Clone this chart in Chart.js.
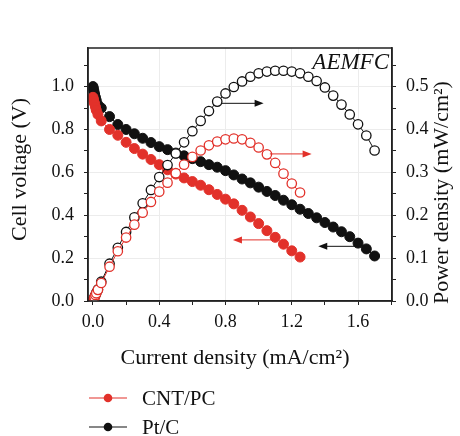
<!DOCTYPE html>
<html>
<head>
<meta charset="utf-8">
<script src="https://cdn.jsdelivr.net/npm/chart.js@4.4.1/dist/chart.umd.min.js"></script>
<style>
    html, body { margin: 0; padding: 0; background: #fff; }
    #wrap { width: 460px; height: 436px; position: relative; }
</style>
</head>
<body>
<div id="wrap"><canvas id="fuelCellChart"></canvas></div>
<script>
// Polarization data (current in mA/cm2)
const ptCurrent = [0, 0.003, 0.006, 0.01, 0.015, 0.02, 0.03, 0.05, 0.1, 0.15, 0.2, 0.25, 0.3, 0.35, 0.4, 0.45, 0.5, 0.55, 0.6, 0.65, 0.7, 0.75, 0.8, 0.85, 0.9, 0.95, 1.0, 1.05, 1.1, 1.15, 1.2, 1.25, 1.3, 1.35, 1.4, 1.45, 1.5, 1.55, 1.6, 1.65, 1.7];
const ptVoltage = [1.0, 0.99, 0.978, 0.965, 0.95, 0.935, 0.915, 0.9, 0.86, 0.823, 0.80, 0.78, 0.759, 0.739, 0.72, 0.706, 0.69, 0.677, 0.664, 0.65, 0.636, 0.624, 0.608, 0.588, 0.569, 0.551, 0.531, 0.511, 0.492, 0.47, 0.449, 0.428, 0.408, 0.388, 0.366, 0.345, 0.323, 0.30, 0.27, 0.243, 0.21];
const ptPower = [0, 0.003, 0.006, 0.01, 0.014, 0.019, 0.027, 0.045, 0.087, 0.124, 0.161, 0.195, 0.228, 0.259, 0.289, 0.317, 0.344, 0.37, 0.396, 0.42, 0.443, 0.465, 0.484, 0.499, 0.512, 0.523, 0.531, 0.535, 0.537, 0.537, 0.535, 0.531, 0.523, 0.513, 0.498, 0.479, 0.458, 0.435, 0.412, 0.386, 0.351];

const cntCurrent = [0, 0.003, 0.006, 0.01, 0.015, 0.02, 0.03, 0.05, 0.1, 0.15, 0.2, 0.25, 0.3, 0.35, 0.4, 0.45, 0.5, 0.55, 0.6, 0.65, 0.7, 0.75, 0.8, 0.85, 0.9, 0.95, 1.0, 1.05, 1.1, 1.15, 1.2, 1.25];
const cntVoltage = [0.95, 0.94, 0.93, 0.92, 0.905, 0.89, 0.87, 0.84, 0.80, 0.773, 0.74, 0.711, 0.685, 0.66, 0.636, 0.612, 0.592, 0.574, 0.557, 0.54, 0.519, 0.497, 0.475, 0.453, 0.423, 0.392, 0.361, 0.328, 0.297, 0.265, 0.234, 0.205];
const cntPower = [0, 0.003, 0.006, 0.009, 0.014, 0.018, 0.026, 0.042, 0.08, 0.116, 0.148, 0.178, 0.206, 0.231, 0.255, 0.276, 0.298, 0.318, 0.336, 0.351, 0.363, 0.372, 0.377, 0.379, 0.377, 0.369, 0.358, 0.342, 0.322, 0.297, 0.274, 0.253];

const legendLabels = ['CNT/PC', 'Pt/C'];
const xTitle = 'Current density (mA/cm\u00B2)';
const yTitle = 'Cell voltage (V)';
const y2Title = 'Power density (mW/cm\u00B2)';
const cellLabel = 'AEMFC';

const RED = '#e2312a';
const BLACK = '#111';
const SERIF = "'Liberation Serif', 'Times New Roman', serif";

function toPoints(xs, ys) {
    return xs.map((x, i) => ({ x: x, y: ys[i] }));
}

// true when v is a multiple of step (float safe)
function isMultiple(v, step) {
    const r = v / step;
    return Math.abs(r - Math.round(r)) < 1e-6;
}

function filledSet(label, xs, ys, color) {
    return {
        label: label,
        data: toPoints(xs, ys),
        yAxisID: 'y',
        borderColor: color,
        backgroundColor: color,
        borderWidth: 1,
        pointRadius: 5,
        pointBorderWidth: 1,
        pointBorderColor: color,
        pointBackgroundColor: color,
        order: 2
    };
}

function openSet(label, xs, ys, color) {
    return {
        label: label,
        data: toPoints(xs, ys),
        yAxisID: 'y2',
        borderColor: color,
        backgroundColor: '#fff',
        borderWidth: 1,
        pointRadius: 4.7,
        pointBorderWidth: 1.3,
        pointBorderColor: color,
        pointBackgroundColor: '#fff',
        order: 1
    };
}

// arrows in data units of the left axis: x from, x to, y
const arrows = [
    { from: 0.777, to: 1.03, y: 0.922, color: BLACK },
    { from: 1.068, to: 1.32, y: 0.686, color: RED },
    { from: 1.09, to: 0.845, y: 0.285, color: RED },
    { from: 1.58, to: 1.36, y: 0.255, color: BLACK }
];

const decorPlugin = {
    id: 'decor',
    afterDatasetsDraw(chart) {
        const ctx = chart.ctx;
        const area = chart.chartArea;
        const xs = chart.scales.x;
        const ys = chart.scales.y;

        ctx.save();

        // frame
        ctx.strokeStyle = '#222';
        ctx.lineWidth = 1.5;
        ctx.strokeRect(area.left, area.top, area.right - area.left, area.bottom - area.top);

        // arrows
        arrows.forEach(a => {
            const x1 = xs.getPixelForValue(a.from);
            const x2 = xs.getPixelForValue(a.to);
            const y = ys.getPixelForValue(a.y);
            const dir = x2 > x1 ? 1 : -1;
            ctx.strokeStyle = a.color;
            ctx.fillStyle = a.color;
            ctx.lineWidth = 1;
            ctx.beginPath();
            ctx.moveTo(x1, y);
            ctx.lineTo(x2 - dir * 6, y);
            ctx.stroke();
            ctx.beginPath();
            ctx.moveTo(x2, y);
            ctx.lineTo(x2 - dir * 9, y - 3.5);
            ctx.lineTo(x2 - dir * 9, y + 3.5);
            ctx.closePath();
            ctx.fill();
        });

        // label in the corner
        ctx.fillStyle = BLACK;
        ctx.font = 'italic 23px ' + SERIF;
        ctx.textAlign = 'right';
        ctx.textBaseline = 'middle';
        ctx.fillText(cellLabel, area.right - 3, area.top + 15);

        ctx.restore();
    },
    afterDraw(chart) {
        const ctx = chart.ctx;
        const area = chart.chartArea;
        ctx.save();
        ctx.fillStyle = BLACK;
        ctx.font = '22px ' + SERIF;
        ctx.textAlign = 'center';
        ctx.textBaseline = 'middle';

        // axis titles
        ctx.fillText(xTitle, (area.left + area.right) / 2 - 5, area.bottom + 57);

        ctx.save();
        ctx.translate(20, (area.top + area.bottom) / 2 - 5);
        ctx.rotate(-Math.PI / 2);
        ctx.fillText(yTitle, 0, 0);
        ctx.restore();

        ctx.save();
        ctx.translate(442, (area.top + area.bottom) / 2 + 18);
        ctx.rotate(-Math.PI / 2);
        ctx.fillText(y2Title, 0, 0);
        ctx.restore();

        // legend (line with filled dot)
        const colors = [RED, BLACK];
        ctx.font = '21px ' + SERIF;
        legendLabels.forEach((label, i) => {
            const y = area.bottom + 97 + i * 29;
            const x0 = area.left + 1;
            ctx.strokeStyle = colors[i];
            ctx.fillStyle = colors[i];
            ctx.lineWidth = 1.2;
            ctx.beginPath();
            ctx.moveTo(x0, y);
            ctx.lineTo(x0 + 38, y);
            ctx.stroke();
            ctx.beginPath();
            ctx.arc(x0 + 19, y, 4.3, 0, Math.PI * 2);
            ctx.fill();
            ctx.fillStyle = BLACK;
            ctx.textAlign = 'left';
            ctx.fillText(label, x0 + 53, y + 1);
        });
        ctx.restore();
    }
};

function tickFont() {
    return { family: SERIF, size: 18 };
}

new Chart(document.getElementById('fuelCellChart'), {
    type: 'line',
    data: {
        datasets: [
            openSet('CNT/PC power', cntCurrent, cntPower, RED),
            openSet('Pt/C power', ptCurrent, ptPower, BLACK),
            filledSet('CNT/PC voltage', cntCurrent, cntVoltage, RED),
            filledSet('Pt/C voltage', ptCurrent, ptVoltage, BLACK)
        ]
    },
    options: {
        responsive: true,
        maintainAspectRatio: false,
        animation: false,
        layout: { padding: { left: 0, right: 0, top: 48, bottom: 65 } },
        plugins: {
            legend: { display: false },
            tooltip: { enabled: false }
        },
        scales: {
            x: {
                type: 'linear',
                min: -0.03,
                max: 1.805,
                afterFit: s => { s.height = 70; },
                border: { color: '#222', width: 1.5 },
                grid: {
                    color: c => (c.tick && isMultiple(c.tick.value, 0.4) && c.tick.value > 0) ? '#ececec' : 'rgba(0,0,0,0)',
                    tickColor: '#222',
                    tickLength: 4
                },
                ticks: {
                    stepSize: 0.2,
                    includeBounds: false,
                    autoSkip: false,
                    maxRotation: 0,
                    padding: 6,
                    color: BLACK,
                    font: tickFont(),
                    callback: v => isMultiple(v, 0.4) ? v.toFixed(1) : ''
                }
            },
            y: {
                position: 'left',
                min: 0,
                max: 1.18,
                afterFit: s => { s.width = 88; },
                border: { color: '#222', width: 1.5 },
                grid: {
                    color: c => (c.tick && isMultiple(c.tick.value, 0.2) && c.tick.value > 0) ? '#ececec' : 'rgba(0,0,0,0)',
                    tickColor: '#222',
                    tickLength: 4
                },
                ticks: {
                    stepSize: 0.1,
                    includeBounds: false,
                    autoSkip: false,
                    padding: 10,
                    color: BLACK,
                    font: tickFont(),
                    callback: v => isMultiple(v, 0.2) ? v.toFixed(1) : ''
                }
            },
            y2: {
                position: 'right',
                min: 0,
                max: 0.59,
                afterFit: s => { s.width = 68; },
                border: { color: '#222', width: 1.5 },
                grid: {
                    drawOnChartArea: false,
                    tickColor: '#222',
                    tickLength: 4
                },
                ticks: {
                    stepSize: 0.05,
                    includeBounds: false,
                    autoSkip: false,
                    padding: 10,
                    color: BLACK,
                    font: tickFont(),
                    callback: v => isMultiple(v, 0.1) ? v.toFixed(1) : ''
                }
            }
        }
    },
    plugins: [decorPlugin]
});
</script>
</body>
</html>
